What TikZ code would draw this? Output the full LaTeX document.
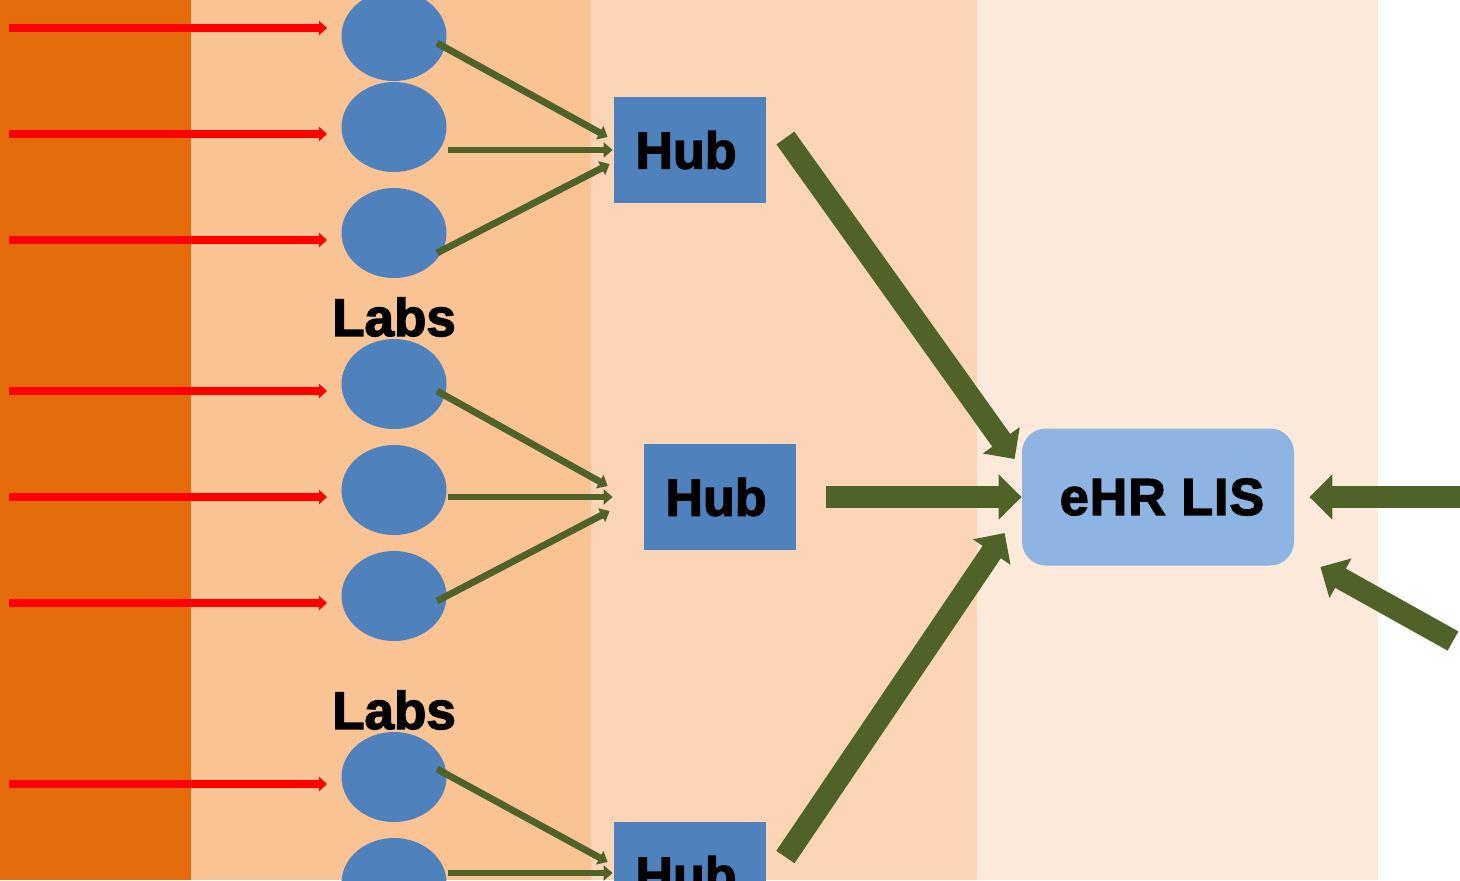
\documentclass[tikz,border=0pt]{standalone}
\usepackage{fontspec}
\setmainfont{Liberation Sans}
\newfontfamily\heavyfont[FakeBold=2.5]{Liberation Sans Bold}
\usetikzlibrary{shapes.geometric,arrows.meta}
\definecolor{bgA}{HTML}{E46C0A}
\definecolor{bgB}{HTML}{F9C393}
\definecolor{bgC}{HTML}{FBD5B5}
\definecolor{bgD}{HTML}{FDEADA}
\definecolor{labblue}{HTML}{4F81BD}
\definecolor{ehrblue}{HTML}{8EB4E3}
\definecolor{olive}{HTML}{4F6228}
\tikzset{
  lab/.style={ellipse,fill=labblue,minimum width=52.5pt,minimum height=45pt,inner sep=0pt},
  hubbox/.style={rectangle,fill=labblue,minimum width=76pt,minimum height=53pt,inner sep=0pt,font=\heavyfont\fontsize{26}{30}\selectfont},
  ehrbox/.style={rectangle,rounded corners=12pt,fill=ehrblue,minimum width=136pt,minimum height=68.5pt,inner sep=0pt,font=\heavyfont\fontsize{26}{30}\selectfont},
  labtext/.style={font=\heavyfont\fontsize{26.5}{30}\selectfont,inner sep=0pt},
  feed/.style={draw=red,line width=4pt,-{Triangle[length=4pt,width=7pt]}},
  thin/.style={draw=olive,line width=3.4pt,-{Triangle[length=4.5pt,width=7.5pt]}},
  big/.style={draw=olive,line width=11pt,-{Triangle[length=11.5pt,width=22pt]}}
}
\begin{document}
\begin{tikzpicture}[x=0.5pt,y=-0.5pt]
\useasboundingbox (0,0) rectangle (1460,880);
\clip (0,0) rectangle (1460,880);
% background stripes
\fill[white] (0,0) rectangle (1460,880);
\fill[bgA] (0,0) rectangle (191,880);
\fill[bgB] (191,0) rectangle (591,880);
\fill[bgC] (591,0) rectangle (977,880);
\fill[bgD] (977,0) rectangle (1378,880);
% labs
\node[lab] (l1) at (394,36) {};
\node[lab] (l2) at (394,127) {};
\node[lab] (l3) at (394,233) {};
\node[lab] (l4) at (394,384) {};
\node[lab] (l5) at (394,490) {};
\node[lab] (l6) at (394,596) {};
\node[lab] (l7) at (394,777) {};
\node[lab] (l8) at (394,883) {};
\node[labtext] (t1) at (394,317) {Labs};
\node[labtext] (t2) at (394,710) {Labs};
% hubs
\node[hubbox] (h1) at (690,150) {\hspace*{-4pt}Hub};
\node[hubbox] (h2) at (720,497) {\hspace*{-4pt}Hub};
\node[hubbox] (h3) at (690,875) {\hspace*{-4pt}Hub};
\node[ehrbox] (e) at (1158,497) {\hspace*{4pt}e\kern0.5pt H\kern0.5pt R\kern0.5pt\ L\kern0.5pt I\kern0.5pt S};
% red feeds
\foreach \i/\y in {1/28,2/134,3/240,4/391,5/497,6/603,7/784}{
  \coordinate (r\i) at (9,\y);
  \draw[feed] (r\i) -- (327,\y);
}
% lab to hub arrows
\draw[thin] ([shift={(43,7)}]l1.center) -- ([shift={(-6,-13)}]h1.west);
\draw[thin] ([shift={(54,23)}]l2.center) -- ([shift={(-1,0)}]h1.west);
\draw[thin] ([shift={(43,20)}]l3.center) -- ([shift={(-4,14)}]h1.west);
\draw[thin] ([shift={(43,7)}]l4.center) -- ([shift={(-36,-11)}]h2.west);
\draw[thin] ([shift={(54,7)}]l5.center) -- ([shift={(-31,0)}]h2.west);
\draw[thin] ([shift={(43,5)}]l6.center) -- ([shift={(-34,14)}]h2.west);
\draw[thin] ([shift={(43,-8)}]l7.center) -- ([shift={(-6,-13)}]h3.west);
\draw[thin] ([shift={(54,-10)}]l8.center) -- ([shift={(-1,-2)}]h3.west);
% hub to eHR
\draw[big] ([shift={(19,-12)}]h1.east) -- ([shift={(-7,-38)}]e.west);
\draw[big] ([shift={(30,0)}]h2.east) -- (e.west);
\draw[big] ([shift={(19,-18)}]h3.east) -- ([shift={(-17,36)}]e.west);
% incoming from right
\coordinate (in1) at (1462,497);
\coordinate (in2) at (1453,641);
\draw[big] (in1) -- ([shift={(15,0)}]e.east);
\draw[big] (in2) -- ([shift={(26,70)}]e.east);
\end{tikzpicture}
\end{document}
